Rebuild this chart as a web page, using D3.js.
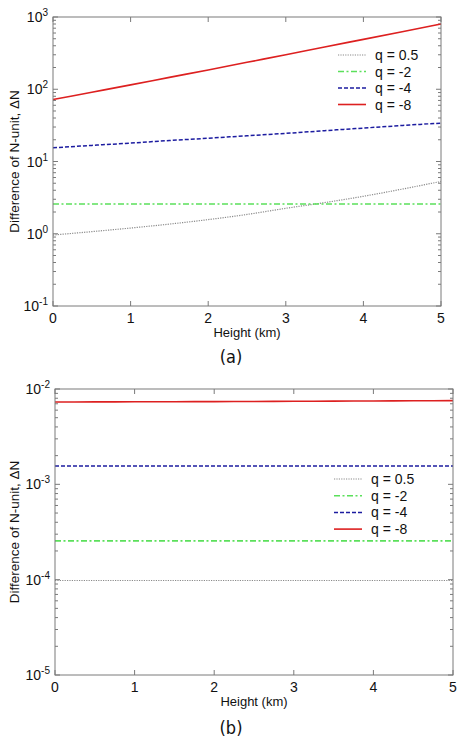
<!DOCTYPE html>
<html><head><meta charset="utf-8">
<script src="https://cdn.jsdelivr.net/npm/d3@7"></script>
<style>body{margin:0;background:#fff}svg{display:block}text{font-family:"Liberation Sans",Arial,sans-serif;fill:#111}</style>
</head><body><svg id="c" width="463" height="742"></svg>
<script>
const heights = [0, 0.5, 1, 1.5, 2, 2.5, 3, 3.5, 4, 4.5, 5];
const seriesNames = ["q = 0.5", "q = -2", "q = -4", "q = -8"];
// panel (a)
const a_q05 = [0.96, 1.07, 1.2, 1.36, 1.57, 1.85, 2.25, 2.7, 3.3, 4.15, 5.3];
const a_qm2 = [2.58, 2.58, 2.58, 2.58, 2.58, 2.58, 2.58, 2.58, 2.58, 2.58, 2.58];
const a_qm4 = [15.5, 16.7, 18, 19.5, 21, 22.7, 24.5, 26.7, 29, 31.5, 34];
const a_qm8 = [72, 91, 115, 146, 185, 236, 300, 385, 490, 625, 800];
// panel (b)
const b_q05 = [9.8e-5, 9.8e-5, 9.8e-5, 9.8e-5, 9.8e-5, 9.8e-5, 9.8e-5, 9.8e-5, 9.8e-5, 9.8e-5, 9.8e-5];
const b_qm2 = [2.55e-4, 2.55e-4, 2.55e-4, 2.55e-4, 2.55e-4, 2.55e-4, 2.55e-4, 2.55e-4, 2.55e-4, 2.55e-4, 2.55e-4];
const b_qm4 = [1.56e-3, 1.56e-3, 1.56e-3, 1.56e-3, 1.56e-3, 1.56e-3, 1.56e-3, 1.56e-3, 1.56e-3, 1.56e-3, 1.56e-3];
const b_qm8 = [7.3e-3, 7.32e-3, 7.34e-3, 7.36e-3, 7.38e-3, 7.4e-3, 7.43e-3, 7.46e-3, 7.49e-3, 7.52e-3, 7.55e-3];
const xTicks = [0, 1, 2, 3, 4, 5];
const aDecades = [-1, 0, 1, 2, 3];
const bDecades = [-5, -4, -3, -2];

const styles = [
  {color: "#8a8a8a", dash: "1.2,1.2", w: 1.2},
  {color: "#5be05b", dash: "6,2.5,2,2.5", w: 1.6},
  {color: "#1c1ca0", dash: "4,2", w: 1.5},
  {color: "#dd2020", dash: null, w: 1.6}
];

const svg = d3.select("#c");

function panel(cfg) {
  const x = d3.scaleLinear().domain([0, 5]).range([cfg.x0, cfg.x1]);
  const y = d3.scaleLog().domain([Math.pow(10, cfg.dec[0]), Math.pow(10, cfg.dec[cfg.dec.length-1])]).range([cfg.y1, cfg.y0]);
  const g = svg.append("g");
  const ax = "#7a7a7a";
  const ymaj = cfg.dec.map(d => Math.pow(10, d));
  const ymin = [];
  for (let i = 0; i < cfg.dec.length - 1; i++) for (let m = 2; m <= 9; m++) ymin.push(m * Math.pow(10, cfg.dec[i]));
  [[cfg.x0, 1], [cfg.x1, -1]].forEach(([xx, s]) => {
    ymaj.forEach(v => g.append("line").attr("x1", xx).attr("x2", xx + s*5).attr("y1", y(v)).attr("y2", y(v)).attr("stroke", ax));
    ymin.forEach(v => g.append("line").attr("x1", xx).attr("x2", xx + s*3).attr("y1", y(v)).attr("y2", y(v)).attr("stroke", ax));
  });
  [[cfg.y1, -1], [cfg.y0, 1]].forEach(([yy, s]) => {
    xTicks.forEach(v => g.append("line").attr("x1", x(v)).attr("x2", x(v)).attr("y1", yy).attr("y2", yy + s*5).attr("stroke", ax));
  });
  const line = d3.line().x((d, i) => x(heights[i])).y(d => y(d)).curve(d3.curveMonotoneX);
  cfg.series.forEach((s, i) => {
    const st = styles[i];
    g.append("path").attr("d", line(s)).attr("fill", "none").attr("stroke", st.color)
      .attr("stroke-width", st.w).attr("stroke-dasharray", st.dash);
  });
  g.append("rect").attr("x", cfg.x0).attr("y", cfg.y0).attr("width", cfg.x1 - cfg.x0).attr("height", cfg.y1 - cfg.y0)
    .attr("fill", "none").attr("stroke", ax).attr("stroke-width", 1);
  cfg.dec.forEach(d => {
    const t = g.append("text").attr("x", cfg.x0 - 5).attr("y", y(Math.pow(10, d)) + 5)
      .attr("text-anchor", "end").style("font-size", "14px");
    t.append("tspan").text("10");
    t.append("tspan").attr("dy", -6).style("font-size", "10px").text(String(d));
  });
  xTicks.forEach(v => g.append("text").attr("x", x(v)).attr("y", cfg.y1 + 17).attr("text-anchor", "middle")
    .style("font-size", "14px").text(v));
  g.append("text").attr("x", (cfg.x0 + cfg.x1)/2).attr("y", cfg.y1 + 31).attr("text-anchor", "middle")
    .style("font-size", "13px").text("Height (km)");
  g.append("text").attr("transform", `translate(${cfg.ylx},${(cfg.y0 + cfg.y1)/2}) rotate(-90)`)
    .attr("text-anchor", "middle").style("font-size", "13.5px").text("Difference of N-unit, \u0394N");
  g.append("text").attr("x", cfg.capx).attr("y", cfg.capy).attr("text-anchor", "middle")
    .style("font-size", "18px").style("font-family", "'DejaVu Sans Condensed','Liberation Sans Narrow',sans-serif")
    .text(cfg.cap);
  seriesNames.forEach((n, i) => {
    const st = styles[i];
    const ly = cfg.legY + i * cfg.legDy;
    g.append("line").attr("x1", cfg.legX).attr("x2", cfg.legX + 28).attr("y1", ly).attr("y2", ly)
      .attr("stroke", st.color).attr("stroke-width", st.w).attr("stroke-dasharray", st.dash);
    g.append("text").attr("x", cfg.legX + 37).attr("y", ly + 5).style("font-size", "14px").text(n);
  });
}

panel({x0: 53, x1: 441, y0: 17, y1: 306, dec: aDecades, series: [a_q05, a_qm2, a_qm4, a_qm8],
  ylx: 19, capx: 231, capy: 363, cap: "(a)", legX: 338, legY: 55, legDy: 16.5});
panel({x0: 55, x1: 453, y0: 389, y1: 675, dec: bDecades, series: [b_q05, b_qm2, b_qm4, b_qm8],
  ylx: 19, capx: 231, capy: 734, cap: "(b)", legX: 334, legY: 479, legDy: 16.7});
</script></body></html>
